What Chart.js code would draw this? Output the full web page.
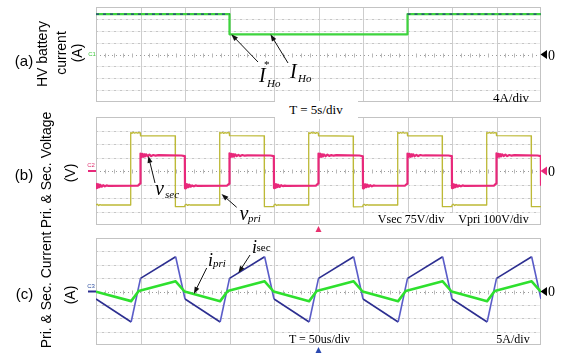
<!DOCTYPE html>
<html>
<head>
<meta charset="utf-8">
<script src="https://cdn.jsdelivr.net/npm/chart.js@4.4.1/dist/chart.umd.min.js"></script>
<style>
html,body{margin:0;padding:0;background:#fff;}
#wrap{position:relative;width:564px;height:356px;overflow:hidden;background:#fff;}
#wrap canvas{position:absolute;left:0;top:0;}
.t{position:absolute;white-space:nowrap;line-height:1;color:#000;}
.c{transform:translate(-50%,-50%);}
.r{transform:translate(-50%,-50%) rotate(-90deg);}
.sans{font-family:"Liberation Sans",Arial,sans-serif;font-size:14px;}
.serif{font-family:"Liberation Serif","Times New Roman",serif;}
.it{font-style:italic;}
.box{position:absolute;background:#fff;}
.tiny{font-family:"Liberation Sans",Arial,sans-serif;font-size:6px;}
</style>
</head>
<body>
<div id="wrap">
  <canvas id="ca" width="564" height="356"></canvas>
  <canvas id="cb" width="564" height="356"></canvas>
  <canvas id="cc" width="564" height="356"></canvas>

  <!-- scale readouts -->
  <div class="box" style="left:275px;top:101px;width:83px;height:18px;"></div>
  <div class="t serif c" style="left:316px;top:109px;font-size:13px;">T = 5s/div</div>
  <div class="box" style="left:490px;top:91px;width:50px;height:10px;"></div>
  <div class="t serif c" style="left:511px;top:96.5px;font-size:13px;">4A/div</div>
  <div class="box" style="left:378px;top:213px;width:162px;height:11px;"></div>
  <div class="t serif c" style="left:411px;top:218.5px;font-size:12px;">Vsec 75V/div</div>
  <div class="t serif c" style="left:493.5px;top:218.5px;font-size:12px;">Vpri 100V/div</div>
  <div class="box" style="left:288px;top:333px;width:63px;height:11px;"></div>
  <div class="t serif c" style="left:319.5px;top:338.5px;font-size:12px;">T = 50us/div</div>
  <div class="box" style="left:493px;top:333px;width:47px;height:11px;"></div>
  <div class="t serif c" style="left:513px;top:338.5px;font-size:12px;">5A/div</div>

  <!-- zero level readouts -->
  <div class="t serif c" style="left:551.5px;top:55.5px;font-size:14px;">0</div>
  <div class="t serif c" style="left:551.5px;top:172px;font-size:14px;">0</div>
  <div class="t serif c" style="left:551.5px;top:292px;font-size:14px;">0</div>

  <!-- channel tags -->
  <div class="t tiny c" style="left:92px;top:54px;color:#3fc63f;">C1</div>
  <div class="t tiny c" style="left:91px;top:165px;color:#e0306f;">C2</div>
  <div class="t tiny c" style="left:91px;top:286px;color:#3050a0;">C3</div>

  <!-- panel captions -->
  <div class="t sans c" style="left:24px;top:60px;font-size:15px;">(a)</div>
  <div class="t sans c" style="left:24px;top:174px;font-size:15px;">(b)</div>
  <div class="t sans c" style="left:24.5px;top:293px;font-size:15px;">(c)</div>
  <div class="t sans r" style="left:42px;top:53.5px;">HV battery</div>
  <div class="t sans r" style="left:61px;top:53px;">current</div>
  <div class="t sans r" style="left:77px;top:52.5px;">(A)</div>
  <div class="t sans r" style="left:46px;top:170px;">Pri. &amp; Sec. Voltage</div>
  <div class="t sans r" style="left:70px;top:173px;">(V)</div>
  <div class="t sans r" style="left:45.5px;top:289.5px;">Pri. &amp; Sec. Current</div>
  <div class="t sans r" style="left:70px;top:294.5px;">(A)</div>

  <!-- trace names -->
  <div class="t serif it" style="left:259px;top:65.3px;font-size:20px;">I</div>
  <div class="t serif" style="left:264px;top:58.8px;font-size:11px;">*</div>
  <div class="t serif it" style="left:267px;top:77.8px;font-size:11px;">Ho</div>
  <div class="t serif it" style="left:290px;top:61.3px;font-size:20px;">I</div>
  <div class="t serif it" style="left:298px;top:72.8px;font-size:11px;">Ho</div>

  <div class="t serif it" style="left:155px;top:178.3px;font-size:20px;">v</div>
  <div class="t serif it" style="left:165px;top:188.8px;font-size:11px;">sec</div>
  <div class="t serif it" style="left:239.5px;top:203.3px;font-size:20px;">v</div>
  <div class="t serif it" style="left:248px;top:212.8px;font-size:11px;">pri</div>

  <div class="t serif it" style="left:208px;top:250.6px;font-size:18px;">i</div>
  <div class="t serif it" style="left:213px;top:257.8px;font-size:11px;">pri</div>
  <div class="t serif it" style="left:252px;top:237.9px;font-size:18px;">i</div>
  <div class="t serif" style="left:256.5px;top:242.3px;font-size:11px;">sec</div>
</div>

<script>
// ---- (a) HV battery current, 5 s/div, 4 A/div ----
const aTime = [0, 15, 15, 35, 35, 50];
const aRefCurrent = [13.6, 13.6, 6.8, 6.8, 13.6, 13.6];
const aCurrent = [13.6, 13.6, 6.8, 6.8, 13.6, 13.6];

// ---- (b) primary / secondary voltage, 50 us/div ----
const vpriT = [
  0, 1.5, 3, 4.5, 6, 38.8, 39, 40.5, 42, 43.5, 45, 46.5, 48, 49.8, 50, 89, 89.2, 99.8,
  100, 101.5, 103, 104.5, 106, 138.8, 139, 140.5, 142, 143.5, 145, 146.5, 148, 149.8, 150, 189, 189.2, 199.8,
  200, 201.5, 203, 204.5, 206, 238.8, 239, 240.5, 242, 243.5, 245, 246.5, 248, 249.8, 250, 289, 289.2, 299.8,
  300, 301.5, 303, 304.5, 306, 338.8, 339, 340.5, 342, 343.5, 345, 346.5, 348, 349.8, 350, 389, 389.2, 399.8,
  400, 401.5, 403, 404.5, 406, 438.8, 439, 440.5, 442, 443.5, 445, 446.5, 448, 449.8, 450, 489, 489.2, 499.8,
  500
];
const vpriV = [
  -252, -246, -256, -249, -252, -252, 285, 279, 286, 280, 285, 280, 284, 282, 261, 260, -264, -264,
  -252, -247, -255, -249, -252, -252, 286, 280, 285, 279, 284, 281, 285, 282, 262, 260, -264, -264,
  -252, -246, -256, -250, -252, -252, 285, 278, 286, 281, 284, 279, 284, 281, 261, 259, -265, -264,
  -252, -247, -255, -249, -252, -252, 286, 279, 285, 280, 285, 280, 283, 282, 261, 260, -264, -264,
  -252, -246, -256, -249, -252, -252, 285, 280, 286, 279, 284, 281, 284, 282, 262, 260, -264, -264,
  -264
];
const vsecT = [
  0, 1, 2, 3, 4, 5, 6.5, 8, 10, 12, 14, 47, 49.5, 50, 51, 52, 53, 54, 55, 56.5, 58, 60, 62, 64.5, 67, 70, 96, 99.8,
  100, 101, 102, 103, 104, 105, 106.5, 108, 110, 112, 114, 147, 149.5, 150, 151, 152, 153, 154, 155, 156.5, 158, 160, 162, 164.5, 167, 170, 196, 199.8,
  200, 201, 202, 203, 204, 205, 206.5, 208, 210, 212, 214, 247, 249.5, 250, 251, 252, 253, 254, 255, 256.5, 258, 260, 262, 264.5, 267, 270, 296, 299.8,
  300, 301, 302, 303, 304, 305, 306.5, 308, 310, 312, 314, 347, 349.5, 350, 351, 352, 353, 354, 355, 356.5, 358, 360, 362, 364.5, 367, 370, 396, 399.8,
  400, 401, 402, 403, 404, 405, 406.5, 408, 410, 412, 414, 447, 449.5, 450, 451, 452, 453, 454, 455, 456.5, 458, 460, 462, 464.5, 467, 470, 496, 499.8,
  500
];
const vsecV = [
  -95, -72, -93, -74, -90, -77, -87, -79, -85, -80, -83, -82, -70, 97, 77, 95, 79, 93, 81, 92, 82, 91, 83, 89, 85, 88, 86, 83,
  -96, -71, -92, -75, -90, -76, -87, -80, -85, -80, -83, -82, -71, 98, 76, 95, 80, 93, 80, 92, 83, 90, 83, 89, 85, 87, 86, 83,
  -95, -72, -93, -74, -89, -77, -88, -79, -84, -81, -83, -82, -70, 97, 77, 96, 79, 92, 81, 91, 82, 91, 84, 88, 85, 88, 86, 82,
  -96, -73, -92, -74, -90, -76, -87, -79, -85, -80, -82, -82, -71, 97, 78, 95, 79, 93, 81, 92, 82, 90, 83, 89, 86, 87, 86, 83,
  -95, -72, -93, -75, -90, -77, -87, -80, -85, -80, -83, -82, -70, 98, 77, 95, 80, 93, 81, 92, 83, 91, 83, 89, 85, 88, 86, 83,
  -82
];

// ---- (c) primary / secondary current, 50 us/div, 5 A/div ----
const isecT = [0, 39.5, 50, 89.5, 100, 139.5, 150, 189.5, 200, 239.5, 250, 289.5, 300, 339.5, 350, 389.5, 400, 439.5, 450, 489.5, 500];
const isecV = [-2.8, -11.4, 4.9, 13.0, -2.8, -11.4, 4.9, 13.0, -2.8, -11.4, 4.9, 13.0, -2.8, -11.4, 4.9, 13.0, -2.8, -11.4, 4.9, 13.0, -2.8];
const ipriT = [0, 39.5, 48, 89.5, 99.5, 139.5, 148, 189.5, 199.5, 239.5, 248, 289.5, 299.5, 339.5, 348, 389.5, 399.5, 439.5, 448, 489.5, 499.5, 500];
const ipriV = [-0.1, -3.6, 0.2, 3.8, 0.0, -3.6, 0.2, 3.8, 0.0, -3.6, 0.2, 3.8, 0.0, -3.6, 0.2, 3.8, 0.0, -3.6, 0.2, 3.8, 0.0, 0.0];

const pts = (xs, ys) => xs.map((x, i) => ({x, y: ys[i]}));

// Oscilloscope graticule, zero markers, channel tags and callout arrows
const scope = {
  id: 'scope',
  beforeDatasetsDraw(chart, args, opts) {
    const {ctx, chartArea: a, scales} = chart;
    const x = scales.x, y = scales.y;
    const nx = 10, ny = 8;
    const dx = (x.max - x.min) / nx, dy = (y.max - y.min) / ny;
    ctx.save();
    ctx.lineWidth = 1;
    // horizontal division lines: faint solid with dotted overlay
    for (let j = 1; j < ny; j++) {
      if (j === ny / 2) continue;
      const py = Math.round(y.getPixelForValue(y.min + j * dy)) + 0.5;
      ctx.strokeStyle = '#ececec';
      ctx.setLineDash([]);
      ctx.beginPath(); ctx.moveTo(a.left, py); ctx.lineTo(a.right, py); ctx.stroke();
      ctx.strokeStyle = '#c6c6c6';
      ctx.setLineDash([2, 4]);
      ctx.beginPath(); ctx.moveTo(a.left, py); ctx.lineTo(a.right, py); ctx.stroke();
    }
    ctx.setLineDash([]);
    ctx.strokeStyle = '#cdcdcd';
    ctx.beginPath();
    for (let i = 1; i < nx; i++) {
      const px = Math.round(x.getPixelForValue(x.min + i * dx)) + 0.5;
      ctx.moveTo(px, a.top); ctx.lineTo(px, a.bottom);
    }
    ctx.stroke();
    const cy = Math.round(y.getPixelForValue((y.min + y.max) / 2)) + 0.5;
    ctx.setLineDash([1, 3]);
    ctx.strokeStyle = '#9c9c9c';
    ctx.beginPath(); ctx.moveTo(a.left, cy); ctx.lineTo(a.right, cy); ctx.stroke();
    ctx.setLineDash([]);
    ctx.strokeStyle = '#b8b8b8';
    ctx.beginPath();
    for (let k = 1; k < nx * 5; k++) {
      if (k % 5 === 0) continue;
      const px = Math.round(x.getPixelForValue(x.min + k * dx / 5)) + 0.5;
      ctx.moveTo(px, cy - 2); ctx.lineTo(px, cy + 2);
    }
    ctx.stroke();
    ctx.strokeStyle = '#c3c3c3';
    ctx.strokeRect(Math.round(a.left) + 0.5, Math.round(a.top) + 0.5,
                   Math.round(a.right - a.left) - 1, Math.round(a.bottom - a.top) - 1);
    ctx.restore();
  },
  afterDatasetsDraw(chart, args, opts) {
    const {ctx, chartArea: a, scales} = chart;
    const x = scales.x, y = scales.y;
    const zy = y.getPixelForValue(0);
    ctx.save();
    // ground reference pointer on the right
    ctx.fillStyle = opts.zeroColor;
    ctx.beginPath();
    ctx.moveTo(a.right - 0.5, zy);
    ctx.lineTo(a.right + 6, zy - 4.5);
    ctx.lineTo(a.right + 6, zy + 4.5);
    ctx.closePath(); ctx.fill();
    // channel stub on the left
    if (opts.stubColor) {
      ctx.strokeStyle = opts.stubColor;
      ctx.lineWidth = 2;
      ctx.beginPath(); ctx.moveTo(a.left - 8, zy); ctx.lineTo(a.left, zy); ctx.stroke();
    }
    // trigger position below the screen
    if (opts.trigColor) {
      const cx = x.getPixelForValue((x.min + x.max) / 2);
      const ty = a.bottom + opts.trigGap;
      ctx.fillStyle = opts.trigColor;
      ctx.beginPath();
      ctx.moveTo(cx, ty); ctx.lineTo(cx - 3, ty + 6); ctx.lineTo(cx + 3, ty + 6);
      ctx.closePath(); ctx.fill();
    }
    // callout arrows
    ctx.strokeStyle = '#111'; ctx.fillStyle = '#111'; ctx.lineWidth = 1;
    for (const ar of (opts.arrows || [])) {
      const sc = scales[ar.axis || 'y'];
      const tx = x.getPixelForValue(ar.x), ty = sc.getPixelForValue(ar.y);
      const [sx, sy] = ar.tail;
      const ang = Math.atan2(ty - sy, tx - sx);
      const c = Math.cos(ang), s = Math.sin(ang);
      const L = 7, W = 2.5;
      ctx.beginPath(); ctx.moveTo(sx, sy); ctx.lineTo(tx - c * L * 0.8, ty - s * L * 0.8); ctx.stroke();
      ctx.beginPath();
      ctx.moveTo(tx, ty);
      ctx.lineTo(tx - L * c + W * s, ty - L * s - W * c);
      ctx.lineTo(tx - L * c - W * s, ty - L * s + W * c);
      ctx.closePath(); ctx.fill();
    }
    ctx.restore();
  }
};

function makeChart(id, box, scales, datasets, scopeOpts) {
  return new Chart(document.getElementById(id), {
    type: 'line',
    data: { datasets },
    options: {
      responsive: false,
      animation: false,
      events: [],
      layout: { padding: { left: box.l, right: 564 - box.r, top: box.t, bottom: 356 - box.b } },
      scales,
      elements: { point: { radius: 0 }, line: { tension: 0, borderJoinStyle: 'round' } },
      plugins: { legend: { display: false }, tooltip: { enabled: false }, scope: scopeOpts }
    },
    plugins: [scope]
  });
}

const hidden = (min, max) => ({ type: 'linear', min, max, display: false });

makeChart('ca', { l: 96, r: 541, t: 7, b: 102 },
  { x: hidden(0, 50), y: hidden(-16, 16) },
  [
    { label: 'I*Ho', data: pts(aTime, aRefCurrent), borderWidth: 1.3, borderDash: [3, 4],
      segment: { borderColor: c => (c.p0.parsed.y > 10 && c.p1.parsed.y > 10) ? '#2a3388' : 'rgba(0,0,0,0)' } },
    { label: 'IHo', data: pts(aTime, aCurrent), borderColor: '#3ed43e', borderWidth: 2.2 }
  ],
  { zeroColor: '#000',
    arrows: [ { x: 15.2, y: 6.8, tail: [258, 62] }, { x: 19.6, y: 6.8, tail: [288, 63] } ] });

makeChart('cb', { l: 96, r: 541, t: 117, b: 225 },
  { x: hidden(0, 500), y: hidden(-400, 400), y2: hidden(-300, 300) },
  [
    { label: 'vsec', data: pts(vsecT, vsecV), yAxisID: 'y2', borderColor: '#e8287a', borderWidth: 2.2 },
    { label: 'vpri', data: pts(vpriT, vpriV), yAxisID: 'y', borderColor: '#bdb936', borderWidth: 1.3 }
  ],
  { zeroColor: '#e8287a', stubColor: '#e8287a', trigColor: '#e8306e', trigGap: 1,
    arrows: [ { x: 58.8, y: 84, axis: 'y2', tail: [155, 183] }, { x: 141, y: -170, tail: [236.7, 207.3] } ] });

makeChart('cc', { l: 96, r: 541, t: 238, b: 345 },
  { x: hidden(0, 500), y: hidden(-20, 20) },
  [
    { label: 'ipri', data: pts(ipriT, ipriV), borderColor: '#2ee02e', borderWidth: 2.6 },
    { label: 'isec', data: pts(isecT, isecV), borderWidth: 1.6,
      segment: { borderColor: c => Math.abs(c.p1.parsed.x - c.p0.parsed.x) < 15 ? '#5a5cc8' : '#2c2e90' } }
  ],
  { zeroColor: '#000', stubColor: '#2c2e90', trigColor: '#2a48b0', trigGap: 2,
    arrows: [ { x: 110, y: -0.9, tail: [206.7, 268] }, { x: 160, y: 6.9, tail: [250, 255] } ] });
</script>
</body>
</html>
